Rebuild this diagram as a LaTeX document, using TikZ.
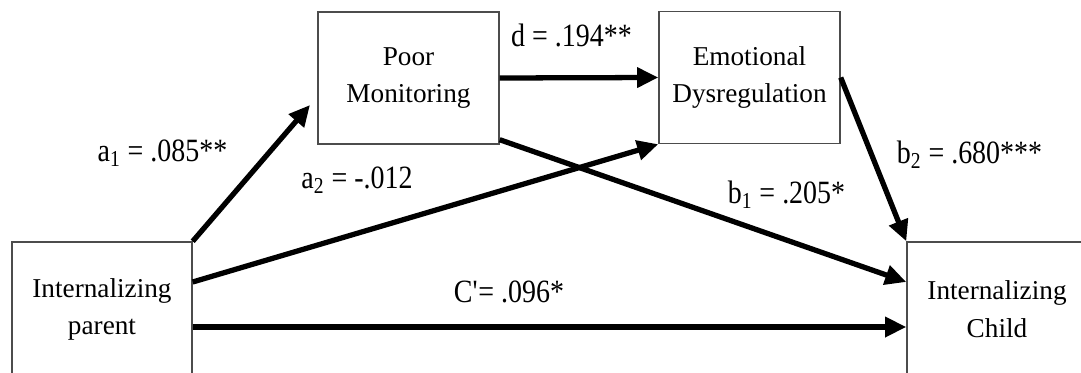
\documentclass[tikz,border=0pt]{standalone}
\usepackage{fontspec}
\setmainfont{Liberation Serif}
\newfontfamily\lblfont[FakeStretch=0.86]{Liberation Serif}
\usetikzlibrary{arrows.meta}
\begin{document}
\begin{tikzpicture}[line width=0.8pt,
    box/.style={draw=black!70, line width=0.8pt, align=center, inner sep=0pt,
      minimum width=3.62cm, minimum height=2.64cm, font=\fontsize{15.5}{21.5}\selectfont},
    path/.style={-{Triangle[length=12pt,width=11pt]}, line width=3pt},
    lbl/.style={font=\fontsize{18.5}{20}\lblfont, inner sep=1pt}]
  \path[use as bounding box] (0,0) rectangle (21.62,7.44);
  \clip (0,0) rectangle (21.62,7.44);
  % variables
  \node[box, minimum width=3.6cm, minimum height=2.7cm] (parent) at (2.04,1.25) {Internalizing\\parent};
  \node[box, minimum width=3.6cm, minimum height=2.7cm] (child) at (19.94,1.25) {Internalizing\\Child};
  \node[box] (mon) at (8.17,5.88) {Poor\\Monitoring};
  \node[box] (emo) at (14.99,5.89) {Emotional\\Dysregulation};
  \coordinate (a1end) at (6.2,5.34);
  % paths
  \draw[path] (parent.north east) -- (a1end);
  \draw[path] ([yshift=0.55cm]parent.east) -- (emo.south west);
  \draw[path] (mon.east) -- (emo.west);
  \draw[path] ([yshift=0.1cm]mon.south east) -- ([yshift=0.55cm]child.west);
  \draw[path] (emo.east) -- (child.north west);
  \draw[path] ([yshift=-0.35cm]parent.east) -- ([yshift=-0.35cm]child.west);
  % coefficients
  \node[lbl] (la1) at (3.25,4.38) {a\textsubscript{1} = .085**};
  \node[lbl] (la2) at (7.14,3.84) {a\textsubscript{2} = -.012};
  \node[lbl] (ld) at (11.43,6.74) {d = .194**};
  \node[lbl] (lb1) at (15.73,3.54) {b\textsubscript{1} = .205*};
  \node[lbl] (lb2) at (19.39,4.34) {b\textsubscript{2} = .680***};
  \node[lbl] (lc) at (10.18,1.6) {C\textquotesingle= .096*};
\end{tikzpicture}
\end{document}
